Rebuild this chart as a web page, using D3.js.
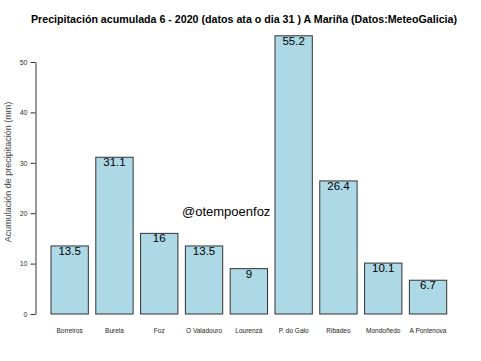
<!DOCTYPE html>
<meta charset="utf-8">
<style>
body{margin:0;background:#fff}
text{font-family:"Liberation Sans",Arial,sans-serif}
</style>
<body>
<svg></svg>
<script src="https://cdnjs.cloudflare.com/ajax/libs/d3/7.8.5/d3.min.js"></script>
<script>

var estacions = ["Borreiros","Burela","Foz","O Valadouro","Lourenzá","P. do Galo","Ribadeo","Mondoñedo","A Pontenova"];
var precip = [13.5, 31.1, 16, 13.5, 9, 55.2, 26.4, 10.1, 6.7];
var yTicks = [0, 10, 20, 30, 40, 50];

var width = 481, height = 361;

var svg = d3.select('svg')
	.attr("width", width)
	.attr("height", height);

var x = d3.scaleBand()
	.domain(estacions)
	.range([51, 446.7])
	.paddingInner(0.1667)
	.paddingOuter(0);

var y = d3.scaleLinear()
	.domain([0, 50])
	.range([314, 62]);

// title
svg.append("text")
	.attr("x", 244)
	.attr("y", 23)
	.attr("text-anchor", "middle")
	.attr("textLength", 426)
	.attr("lengthAdjust", "spacingAndGlyphs")
	.style("font-weight", "bold")
	.style("font-size", "11px")
	.text("Precipitación acumulada 6 - 2020 (datos ata o dia 31 ) A Mariña (Datos:MeteoGalicia)");

// y axis
var yAxis = svg.append("g")
	.attr("transform", "translate(35.5,0)")
	.call(d3.axisLeft(y).tickValues(yTicks).tickSize(5).tickPadding(3).tickSizeOuter(0));
yAxis.select(".domain").attr("stroke", "#333");
yAxis.selectAll(".tick line").attr("stroke", "#333");
yAxis.selectAll(".tick text")
	.style("font-size", "7px")
	.style("font-family", "Liberation Sans, Arial, sans-serif")
	.attr("fill", "#3b2b22");

svg.append("text")
	.attr("transform", "translate(11,172) rotate(-90)")
	.attr("text-anchor", "middle")
	.style("font-size", "9px")
	.attr("fill", "#444")
	.text("Acumulación de precipitación (mm)");

// bars
svg.selectAll(".bar")
	.data(precip)
	.enter()
	.append("rect")
	.attr("class", "bar")
	.attr("x", (d, i) => x(estacions[i]))
	.attr("y", d => y(d))
	.attr("width", x.bandwidth())
	.attr("height", d => y(0) - y(d))
	.attr("fill", "#add8e6")
	.attr("stroke", "#333")
	.attr("stroke-width", 1);

// value labels
svg.selectAll(".val")
	.data(precip)
	.enter()
	.append("text")
	.attr("class", "val")
	.attr("x", (d, i) => x(estacions[i]) + x.bandwidth() / 2)
	.attr("y", d => y(d) + 9)
	.attr("text-anchor", "middle")
	.style("font-size", "11.5px")
	.text(d => d);

// category labels
svg.selectAll(".cat")
	.data(estacions)
	.enter()
	.append("text")
	.attr("class", "cat")
	.attr("x", d => x(d) + x.bandwidth() / 2)
	.attr("y", 333)
	.attr("text-anchor", "middle")
	.style("font-size", "6.5px")
	.attr("fill", "#222")
	.text(d => d);

// watermark
svg.append("text")
	.attr("x", 182)
	.attr("y", 216)
	.style("font-size", "13px")
	.text("@otempoenfoz");
</script>
